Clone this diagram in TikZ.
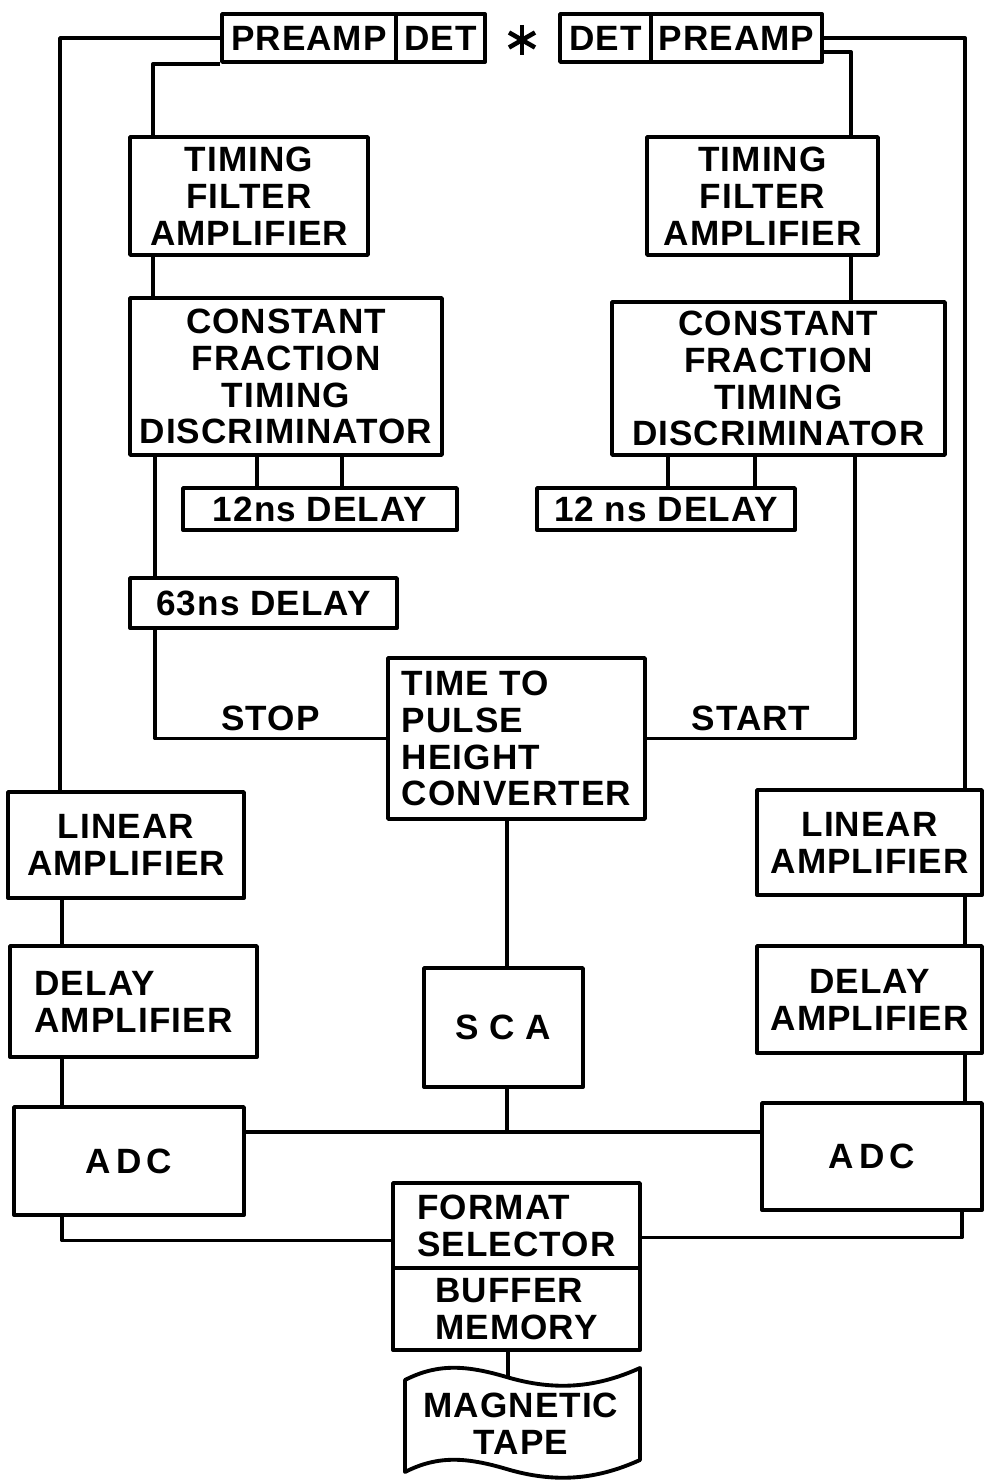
\documentclass[tikz,border=0pt]{standalone}
\usepackage{fontspec}
\setmainfont{Liberation Sans}[LetterSpace=3]

\begin{document}
\begin{tikzpicture}[x=0.02cm,y=-0.02cm,line width=2.2pt,line join=round,
  box/.style={draw,inner sep=0pt,font=\fontsize{20}{21}\selectfont\bfseries},
  lbl/.style={font=\fontsize{20}{21}\selectfont\bfseries}]
  \useasboundingbox (0,0) rectangle (987,1483);

  % detectors and preamps
  \node[box,minimum width=3.48cm,minimum height=0.96cm] (preampL) at (309,38) {PREAMP};
  \node[box,minimum width=1.78cm,minimum height=0.96cm] (detL) at (440.5,38) {DET};
  \coordinate (star) at (522,40);
  \foreach \a in {90,30,150} \draw[line width=2.6pt] (star) +(\a:0.3cm) -- +(\a+180:0.3cm);
  \node[box,minimum width=1.82cm,minimum height=0.96cm] (detR) at (605.5,38) {DET};
  \node[box,minimum width=3.42cm,minimum height=0.96cm] (preampR) at (736.5,38) {PREAMP};

  % fast timing branches
  \node[box,align=center,minimum width=4.76cm,minimum height=2.36cm] (tfaL) at (249,196) {TIMING\\FILTER\\AMPLIFIER};
  \node[box,align=center,minimum width=4.62cm,minimum height=2.36cm] (tfaR) at (762.5,196) {TIMING\\FILTER\\AMPLIFIER};
  \node[box,align=center,minimum width=6.24cm,minimum height=3.14cm] (cftdL) at (286,376.5) {CONSTANT\\FRACTION\\TIMING\\DISCRIMINATOR};
  \node[box,align=center,minimum width=6.66cm,minimum height=3.06cm] (cftdR) at (778.5,378.5) {CONSTANT\\FRACTION\\TIMING\\DISCRIMINATOR};
  \node[box,minimum width=5.48cm,minimum height=0.84cm] (dlyL) at (320,509) {12ns DELAY};
  \node[box,minimum width=5.16cm,minimum height=0.84cm] (dlyR) at (666,509) {12 ns DELAY};
  \node[box,minimum width=5.34cm,minimum height=1.0cm] (dly63) at (263.5,603) {63ns DELAY};
  \node[box,align=left,minimum width=5.14cm,minimum height=3.22cm] (tphc) at (516.5,738.5) {TIME TO\\PULSE\\HEIGHT\\CONVERTER};
  \node[box,minimum width=3.18cm,minimum height=2.38cm] (sca) at (503.5,1027.5) {\addfontfeature{LetterSpace=30}SCA};

  % slow energy branches
  \node[box,align=center,minimum width=4.72cm,minimum height=2.12cm] (linL) at (126,845) {LINEAR\\AMPLIFIER};
  \node[box,align=center,minimum width=4.5cm,minimum height=2.1cm] (linR) at (869.5,842.5) {LINEAR\\AMPLIFIER};
  \node[box,align=left,minimum width=4.94cm,minimum height=2.22cm] (dampL) at (133.5,1001.5) {DELAY\\AMPLIFIER};
  \node[box,align=center,minimum width=4.5cm,minimum height=2.14cm] (dampR) at (869.5,999.5) {DELAY\\AMPLIFIER};
  \node[box,minimum width=4.6cm,minimum height=2.16cm] (adcL) at (129,1161) {\addfontfeature{LetterSpace=15}ADC};
  \node[box,minimum width=4.4cm,minimum height=2.14cm] (adcR) at (872,1156.5) {\addfontfeature{LetterSpace=15}ADC};

  % data handling
  \node[box,align=left,minimum width=4.94cm,minimum height=1.7cm] (fmt) at (516.5,1225.5) {FORMAT\\SELECTOR};
  \node[box,align=left,minimum width=4.94cm,minimum height=1.64cm] (buf) at (516.5,1309) {BUFFER\\MEMORY};
  \draw (405,1380) .. controls (440,1362) and (470,1366) .. (510,1378)
    .. controls (560,1392) and (600,1386) .. (640,1368) -- (640,1460)
    .. controls (600,1478) and (560,1484) .. (510,1470)
    .. controls (470,1458) and (440,1454) .. (405,1472) -- cycle;
  \node[lbl,align=center] (tape) at (521,1424) {MAGNETIC\\TAPE};
  \coordinate (tapetop) at (508,1377);

  % wiring
  \coordinate (oL) at (60,33);
  \coordinate (iL) at (153,62);
  \coordinate (oR) at (965,33);
  \coordinate (iR) at (851,52);
  \coordinate (bus) at (507,1132);
  \draw (preampL.west) -| (oL |- linL.north);
  \draw (preampL.south west) -| (iL |- tfaL.north);
  \draw (preampR.east) -| (oR |- linR.north);
  \draw ([yshift=-0.28cm]preampR.east) -| (iR |- tfaR.north);
  \draw (iL |- tfaL.south) -- (iL |- cftdL.north);
  \draw (iR |- tfaR.south) -- (iR |- cftdR.north);
  \foreach \x in {257,342} \draw (\x,0 |- cftdL.south) -- (\x,0 |- dlyL.north);
  \foreach \x in {668,755} \draw (\x,0 |- cftdR.south) -- (\x,0 |- dlyR.north);
  \draw (155,0 |- cftdL.south) -- (155,0 |- dly63.north);
  \draw (155,0 |- dly63.south) |- (tphc.west) node[lbl,pos=0.75,above] {STOP};
  \draw (855,0 |- cftdR.south) |- (tphc.east) node[lbl,pos=0.75,above] {START};
  \draw (bus |- tphc.south) -- (bus |- sca.north);
  \draw (bus |- sca.south) -- (bus);
  \draw (adcL.east |- bus) -- (adcR.west |- bus);
  \draw (62,0 |- linL.south) -- (62,0 |- dampL.north);
  \draw (62,0 |- dampL.south) -- (62,0 |- adcL.north);
  \draw (62,0 |- adcL.south) |- ([yshift=-0.3cm]fmt.west);
  \draw (oR |- linR.south) -- (oR |- dampR.north);
  \draw (oR |- dampR.south) -- (oR |- adcR.north);
  \draw (962,0 |- adcR.south) |- ([yshift=-0.24cm]fmt.east);
  \draw (tapetop |- buf.south) -- (tapetop);
\end{tikzpicture}
\end{document}
